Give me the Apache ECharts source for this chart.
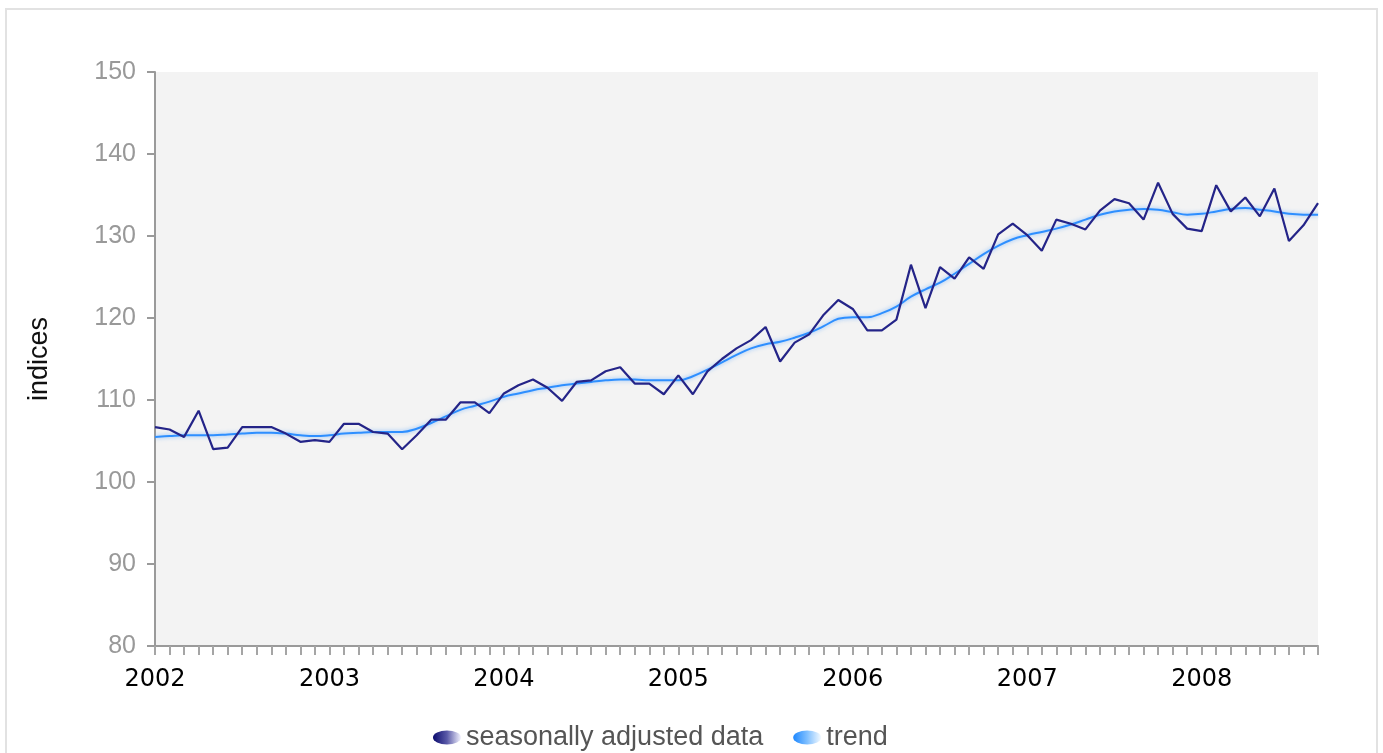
<!DOCTYPE html>
<html>
<head>
<meta charset="utf-8">
<script src="https://cdn.jsdelivr.net/npm/echarts@6/dist/echarts.min.js"></script>
<style>
  html, body { margin: 0; padding: 0; background: #fff; }
  #frame { position: absolute; left: 5px; top: 8px; width: 1373px; height: 760px; border: 2px solid #e2e2e2; box-sizing: border-box; }
  #chart { position: absolute; left: 0; top: 0; width: 1383px; height: 753px; }
</style>
</head>
<body>
<div id="frame"></div>
<div id="chart"></div>
<script>
// Monthly categories Jan 2002 .. Sep 2008
const years = [2002, 2003, 2004, 2005, 2006, 2007, 2008];
const months = ['01','02','03','04','05','06','07','08','09','10','11','12'];
const categories = [];
years.forEach(function (y) {
  months.forEach(function (m) {
    if (y === 2008 && Number(m) > 9) return;
    categories.push(y + '-' + m);
  });
});

const seasonallyAdjusted = [
  106.7, 106.4, 105.5, 108.7, 104.0, 104.2, 106.7, 106.7, 106.7, 105.9, 104.9, 105.1,
  104.9, 107.1, 107.1, 106.1, 105.9, 104.0, 105.7, 107.6, 107.6, 109.7, 109.7, 108.4,
  110.8, 111.8, 112.5, 111.5, 109.9, 112.2, 112.4, 113.5, 114.0, 112.0, 112.0, 110.7,
  113.0, 110.7, 113.5, 115.0, 116.3, 117.3, 118.9, 114.7, 117.0, 118.0, 120.4, 122.2,
  121.1, 118.5, 118.5, 119.8, 126.5, 121.2, 126.2, 124.8, 127.4, 126.0, 130.2, 131.5,
  130.1, 128.2, 132.0, 131.5, 130.8, 133.1, 134.5, 134.0, 132.0, 136.5, 132.7, 130.9,
  130.6, 136.2, 133.0, 134.7, 132.4, 135.8, 129.4, 131.3, 134.0
];

const trend = [
  105.5, 105.6, 105.7, 105.7, 105.7, 105.8, 105.9, 106.0, 106.0, 105.9, 105.7, 105.6,
  105.7, 105.9, 106.0, 106.1, 106.1, 106.1, 106.5, 107.2, 108.0, 108.8, 109.3, 109.8,
  110.4, 110.8, 111.2, 111.5, 111.8, 112.0, 112.2, 112.4, 112.5, 112.5, 112.4, 112.4,
  112.4, 112.9, 113.7, 114.6, 115.5, 116.3, 116.8, 117.1, 117.6, 118.2, 119.0, 119.9,
  120.1, 120.1, 120.6, 121.4, 122.6, 123.5, 124.3, 125.4, 126.6, 127.8, 128.8, 129.6,
  130.1, 130.5, 130.9, 131.4, 132.0, 132.6, 133.0, 133.2, 133.3, 133.2, 132.9, 132.6,
  132.7, 133.0, 133.3, 133.4, 133.2, 133.0, 132.7, 132.6, 132.6
];

const yTicks = { min: 80, max: 150, interval: 10 };
const seriesNames = ['seasonally adjusted data', 'trend'];

const chart = echarts.init(document.getElementById('chart'));
const ellipse = 'path://M0,5 A10,5 0 1,0 20,5 A10,5 0 1,0 0,5 Z';
chart.setOption({
  backgroundColor: 'transparent',
  animation: false,
  grid: {
    left: 155, right: 65, top: 72, bottom: 107,
    show: true, backgroundColor: '#f3f3f3', borderWidth: 0
  },
  legend: {
    left: 428, top: 719,
    itemWidth: 28, itemHeight: 14, itemGap: 30,
    textStyle: { color: '#555', fontSize: 27, fontFamily: 'Liberation Sans' },
    data: [
      { name: seriesNames[0], icon: ellipse,
        itemStyle: { color: new echarts.graphic.LinearGradient(0, 0, 1, 0, [{ offset: 0, color: '#0b0b6e' }, { offset: 0.5, color: '#5a5aa8' }, { offset: 1, color: '#f4f4ff' }]) } },
      { name: seriesNames[1], icon: ellipse,
        itemStyle: { color: new echarts.graphic.LinearGradient(0, 0, 1, 0, [{ offset: 0, color: '#1e88ff' }, { offset: 0.5, color: '#7fbfff' }, { offset: 1, color: '#f4faff' }]) } }
    ]
  },
  xAxis: {
    type: 'category',
    data: categories,
    boundaryGap: false,
    axisLine: { lineStyle: { color: '#9a9a9a', width: 2 } },
    axisTick: { show: true, interval: 0, length: 9, lineStyle: { color: '#a5a5a5', width: 2 } },
    axisLabel: {
      interval: 11, color: '#000', fontSize: 24, fontFamily: 'DejaVu Sans', margin: 22,
      formatter: function (v) { return v.slice(0, 4); }
    },
    splitLine: { show: false }
  },
  yAxis: {
    type: 'value',
    min: yTicks.min, max: yTicks.max, interval: yTicks.interval,
    name: 'indices', nameLocation: 'middle', nameRotate: 90, nameGap: 102,
    nameTextStyle: { color: '#111', fontSize: 27, fontFamily: 'Liberation Sans' },
    axisLine: { show: true, lineStyle: { color: '#9a9a9a', width: 2 } },
    axisTick: { show: true, length: 8, lineStyle: { color: '#9a9a9a', width: 2 } },
    axisLabel: { color: '#999', fontSize: 25, fontFamily: 'Liberation Sans', margin: 19 },
    splitLine: { show: false }
  },
  series: [
    {
      name: seriesNames[1], type: 'line', data: trend, smooth: 0.4,
      showSymbol: false, symbol: 'none',
      lineStyle: { color: '#2e8fff', width: 2, shadowColor: 'rgba(80,160,255,0.7)', shadowBlur: 4 },
      itemStyle: { color: '#2e8fff' }, z: 2
    },
    {
      name: seriesNames[0], type: 'line', data: seasonallyAdjusted,
      showSymbol: false, symbol: 'none',
      lineStyle: { color: '#242488', width: 2.2 },
      itemStyle: { color: '#242488' }, z: 3
    }
  ]
});
</script>
</body>
</html>
